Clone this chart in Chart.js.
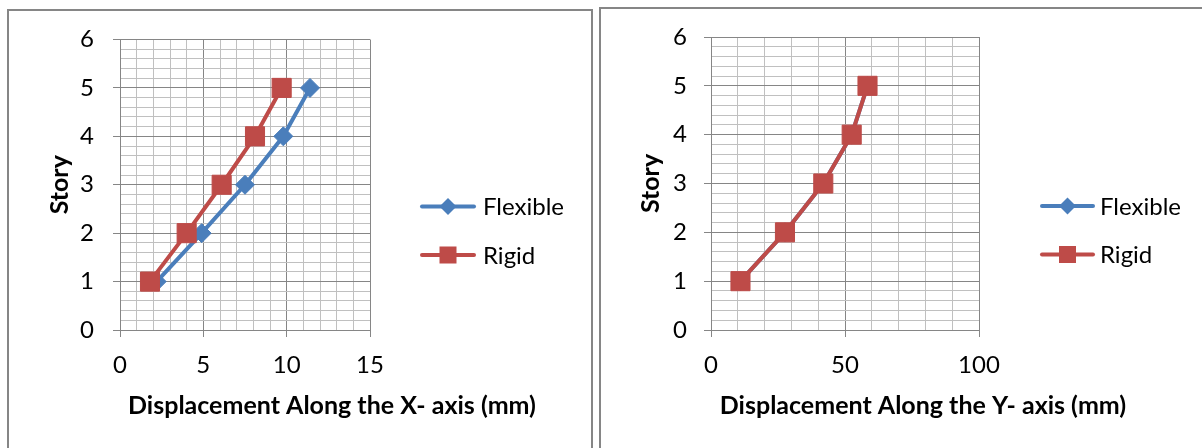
<!DOCTYPE html>
<html>
<head>
<meta charset="utf-8">
<script src="https://cdn.jsdelivr.net/npm/chart.js@4.4.1/dist/chart.umd.min.js"></script>
<style>
    html, body {
        margin: 0;
        padding: 0;
        background: #ffffff;
        overflow: hidden;
        width: 1202px;
        height: 448px;
    }
    .frame {
        position: absolute;
        box-sizing: border-box;
        border: 2px solid #868686;
    }
    #frameX { left: 7px; top: 9px; width: 586px; height: 470px; }
    #frameY { left: 599px; top: 7px; width: 700px; height: 470px; }
    canvas { position: absolute; }
    #chartX { left: 9px; top: 11px; }
    #chartY { left: 601px; top: 9px; }
</style>
</head>
<body>
<div class="frame" id="frameX"></div>
<div class="frame" id="frameY"></div>
<canvas id="chartX" width="582" height="437"></canvas>
<canvas id="chartY" width="601" height="439"></canvas>

<script>
// Data
const storyLevels = [1, 2, 3, 4, 5];
const seriesNames = ['Flexible', 'Rigid'];

// displacement along X (mm)
const flexibleX = [2.2, 4.9, 7.5, 9.8, 11.4];
const rigidX = [1.8, 4.0, 6.1, 8.1, 9.7];

// displacement along Y (mm) - flexible sits right under rigid
const flexibleY = [11.0, 27.6, 41.9, 52.5, 58.4];
const rigidY = [11.0, 27.6, 41.9, 52.5, 58.4];

// labelled ticks
const storyTicks = [0, 1, 2, 3, 4, 5, 6];
const xDispTicks = [0, 5, 10, 15];
const yDispTicks = [0, 50, 100];

const FLEX_COLOR = '#4a7ebb';
const RIGID_COLOR = '#be4b48';
const MAJOR_GRID = '#868686';
const MINOR_GRID = '#c0c0c0';
const FONT = 'Lato';
const TICK_SIZE = 24;
const TITLE_SIZE = 25;

function isOn(value, list) {
    return list.some(t => Math.abs(t - value) < 1e-6);
}

function toPoints(values) {
    return storyLevels.map((s, i) => ({ x: values[i], y: s }));
}

// x-axis title, centred under the plot + legend like the original
const bottomTitle = {
    id: 'bottomTitle',
    afterDraw(chart, args, opts) {
        const { ctx, chartArea } = chart;
        ctx.save();
        ctx.font = 'bold ' + TITLE_SIZE + 'px ' + FONT;
        ctx.fillStyle = '#000000';
        ctx.textAlign = 'center';
        ctx.textBaseline = 'middle';
        ctx.fillText(opts.text, chartArea.left + opts.dx, chartArea.bottom + opts.dy);
        ctx.restore();
    }
};

// legend to the right of the plot: line with marker, then the series name
const sideLegend = {
    id: 'sideLegend',
    afterDraw(chart, args, opts) {
        const { ctx, chartArea } = chart;
        ctx.save();
        chart.data.datasets.forEach((ds, i) => {
            const x0 = chartArea.right + opts.dx;
            const x1 = x0 + opts.lineLen;
            const y = chartArea.top + opts.top + i * opts.spacing;
            const cx = (x0 + x1) / 2;
            ctx.strokeStyle = ds.borderColor;
            ctx.fillStyle = ds.borderColor;
            ctx.lineWidth = 4;
            ctx.lineCap = 'round';
            ctx.beginPath();
            ctx.moveTo(x0 + 2, y);
            ctx.lineTo(x1 - 2, y);
            ctx.stroke();
            if (ds.pointStyle === 'rectRot') {
                const r = 8.5;
                ctx.beginPath();
                ctx.moveTo(cx, y - r);
                ctx.lineTo(cx + r, y);
                ctx.lineTo(cx, y + r);
                ctx.lineTo(cx - r, y);
                ctx.closePath();
                ctx.fill();
            } else {
                ctx.fillRect(cx - 8.5, y - 8.5, 17, 17);
            }
            ctx.font = TICK_SIZE + 'px ' + FONT;
            ctx.fillStyle = '#000000';
            ctx.textAlign = 'left';
            ctx.textBaseline = 'middle';
            ctx.fillText(ds.label, x1 + opts.gap, y + 1);
        });
        ctx.restore();
    }
};

function buildChart(canvasId, cfg) {
    const ctx = document.getElementById(canvasId).getContext('2d');
    return new Chart(ctx, {
        type: 'scatter',
        data: {
            datasets: [
                {
                    label: seriesNames[0],
                    data: toPoints(cfg.flexible),
                    showLine: true,
                    borderColor: FLEX_COLOR,
                    backgroundColor: FLEX_COLOR,
                    borderWidth: 4,
                    borderJoinStyle: 'round',
                    pointStyle: 'rectRot',
                    pointRadius: 9.5,
                    pointBorderWidth: 1,
                    pointBackgroundColor: FLEX_COLOR,
                    pointBorderColor: FLEX_COLOR,
                    tension: 0,
                    order: 1
                },
                {
                    label: seriesNames[1],
                    data: toPoints(cfg.rigid),
                    showLine: true,
                    borderColor: RIGID_COLOR,
                    backgroundColor: RIGID_COLOR,
                    borderWidth: 4,
                    borderJoinStyle: 'round',
                    pointStyle: 'rect',
                    pointRadius: 13.5,
                    pointBorderWidth: 1,
                    pointBackgroundColor: RIGID_COLOR,
                    pointBorderColor: RIGID_COLOR,
                    tension: 0,
                    order: 0
                }
            ]
        },
        options: {
            responsive: false,
            animation: false,
            events: [],
            layout: {
                padding: {
                    left: cfg.padLeft,
                    top: cfg.padTop,
                    right: cfg.canvasWidth - cfg.plotRight,
                    bottom: 0
                }
            },
            plugins: {
                tooltip: { enabled: false },
                legend: { display: false },
                bottomTitle: { text: cfg.xTitle, dx: 212, dy: 76 },
                sideLegend: cfg.legend
            },
            scales: {
                x: {
                    type: 'linear',
                    min: 0,
                    max: cfg.xMax,
                    afterFit: s => { s.height = cfg.xScaleHeight; },
                    ticks: {
                        stepSize: cfg.xStep,
                        autoSkip: false,
                        maxRotation: 0,
                        padding: 13.5,
                        color: '#000000',
                        font: { family: FONT, size: TICK_SIZE },
                        callback: v => isOn(v, cfg.xTicks) ? String(Math.round(v)) : ''
                    },
                    grid: {
                        tickLength: 7,
                        color: c => isOn(c.tick.value, cfg.xTicks) ? MAJOR_GRID : MINOR_GRID,
                        tickColor: c => isOn(c.tick.value, cfg.xTicks) ? MAJOR_GRID : 'rgba(0,0,0,0)'
                    },
                    border: { color: MAJOR_GRID, width: 1 }
                },
                y: {
                    type: 'linear',
                    min: 0,
                    max: 6,
                    afterFit: s => {
                        s.width = cfg.yScaleWidth;
                        // let layout.padding alone decide where the plot starts
                        s.paddingTop = 0;
                        s.paddingBottom = 0;
                    },
                    ticks: {
                        stepSize: 0.2,
                        autoSkip: false,
                        padding: cfg.yTickPad,
                        color: '#000000',
                        font: { family: FONT, size: TICK_SIZE },
                        callback: v => isOn(v, storyTicks) ? String(Math.round(v)) : ''
                    },
                    grid: {
                        tickLength: 7,
                        color: c => isOn(c.tick.value, storyTicks) ? MAJOR_GRID : MINOR_GRID,
                        tickColor: c => isOn(c.tick.value, storyTicks) ? MAJOR_GRID : 'rgba(0,0,0,0)'
                    },
                    border: { color: MAJOR_GRID, width: 1 },
                    title: {
                        display: true,
                        text: 'Story',
                        color: '#000000',
                        padding: 0,
                        font: { family: FONT, size: TITLE_SIZE, weight: 'bold' }
                    }
                }
            }
        },
        plugins: [bottomTitle, sideLegend]
    });
}

buildChart('chartX', {
    flexible: flexibleX,
    rigid: rigidX,
    xMax: 15,
    xStep: 1,
    xTicks: xDispTicks,
    xTitle: 'Displacement Along the X- axis (mm)',
    canvasWidth: 582,
    plotRight: 361,
    padLeft: 36,
    padTop: 28.5,
    yScaleWidth: 75,
    yTickPad: 19,
    xScaleHeight: 118,
    legend: { dx: 50, lineLen: 56, gap: 7, top: 167, spacing: 48.5 }
});

buildChart('chartY', {
    flexible: flexibleY,
    rigid: rigidY,
    xMax: 100,
    xStep: 10,
    xTicks: yDispTicks,
    xTitle: 'Displacement Along the Y- axis (mm)',
    canvasWidth: 601,
    plotRight: 378,
    padLeft: 35,
    padTop: 28,
    yScaleWidth: 75,
    yTickPad: 17,
    xScaleHeight: 118,
    legend: { dx: 61, lineLen: 55, gap: 5, top: 169, spacing: 48.5 }
});
</script>
</body>
</html>
